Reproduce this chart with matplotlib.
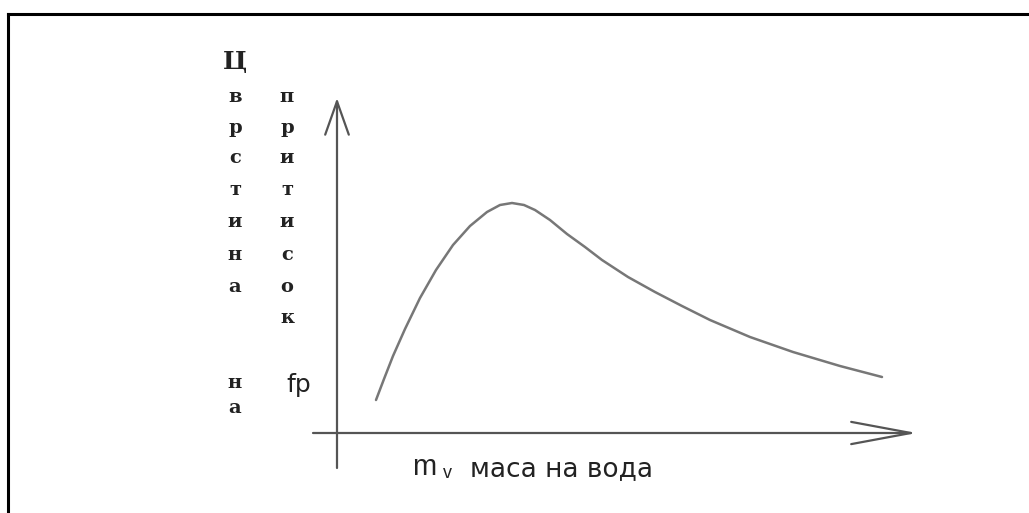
import matplotlib.pyplot as plt
from matplotlib.lines import Line2D

# water mass (arbitrary units) and compressive strength (arbitrary units)
water_mass = [0.39, 0.47, 0.56, 0.68, 0.83, 0.99, 1.16, 1.33, 1.50, 1.63, 1.75, 1.87, 1.98,
              2.13, 2.30, 2.48, 2.65, 2.91, 3.18, 3.45, 3.73, 4.13, 4.56, 5.03, 5.45]
strength = [0.33, 0.54, 0.77, 1.04, 1.35, 1.63, 1.88, 2.07, 2.21, 2.28, 2.30, 2.28, 2.23,
            2.13, 1.99, 1.86, 1.73, 1.56, 1.41, 1.27, 1.13, 0.96, 0.81, 0.67, 0.56]

# axis extents
x_axis = (-0.24, 5.80)
y_axis = (-0.35, 3.35)

# vertical label, written letter by letter in two columns
col1_letters = ['Ц', 'в', 'р', 'с', 'т', 'и', 'н', 'а', 'н', 'а']
col1_y = [3.71, 3.36, 3.05, 2.75, 2.43, 2.11, 1.78, 1.46, 0.50, 0.25]
col2_letters = ['п', 'р', 'и', 'т', 'и', 'с', 'о', 'к']
col2_y = [3.36, 3.05, 2.75, 2.43, 2.11, 1.78, 1.46, 1.15]

fig = plt.figure(figsize=(10.29, 5.13), dpi=100)
ax = fig.add_axes([0, 0, 1, 1])
ax.set_xlim(-3.37, 6.92)
ax.set_ylim(-0.80, 4.33)
ax.axis('off')

axis_color = '#555555'
curve_color = '#777777'

# axes with open arrow heads
ax.annotate('', xy=(x_axis[1], 0), xytext=(x_axis[0], 0),
            arrowprops=dict(arrowstyle='->,head_length=4.3,head_width=0.8',
                            color=axis_color, lw=1.6, shrinkA=0, shrinkB=0))
ax.annotate('', xy=(0, y_axis[1]), xytext=(0, y_axis[0]),
            arrowprops=dict(arrowstyle='->,head_length=2.4,head_width=0.85',
                            color=axis_color, lw=1.6, shrinkA=0, shrinkB=0))

# the curve
ax.plot(water_mass, strength, color=curve_color, lw=1.8,
        solid_capstyle='round', solid_joinstyle='round')

# vertical label letters
serif = dict(family='DejaVu Serif', weight='bold', color='#222222')
for ch, y in zip(col1_letters, col1_y):
    size = 18 if ch == 'Ц' else 14
    ax.text(-1.02, y, ch, ha='center', va='center', fontsize=size, **serif)
for ch, y in zip(col2_letters, col2_y):
    ax.text(-0.50, y, ch, ha='center', va='center', fontsize=14, **serif)

ax.text(-0.51, 0.41, 'fp', ha='left', va='baseline', fontsize=18,
        family='DejaVu Sans', color='#222222')

# x label
ax.text(0.75, -0.42, 'm', ha='left', va='baseline', fontsize=21,
        family='Liberation Sans', color='#222222')
ax.text(1.06, -0.45, 'v', ha='left', va='baseline', fontsize=13,
        family='Liberation Sans', color='#222222')
ax.text(1.33, -0.43, 'маса на вода', ha='left', va='baseline', fontsize=19,
        family='DejaVu Sans', color='#222222')

# frame (top and left edges)
fig.add_artist(Line2D([8 / 1029, 1], [1 - 14 / 513, 1 - 14 / 513], color='black', lw=2.2))
fig.add_artist(Line2D([8 / 1029, 8 / 1029], [0, 1 - 14 / 513], color='black', lw=2.2))

fig.savefig('out.png', dpi=100, facecolor='white')
